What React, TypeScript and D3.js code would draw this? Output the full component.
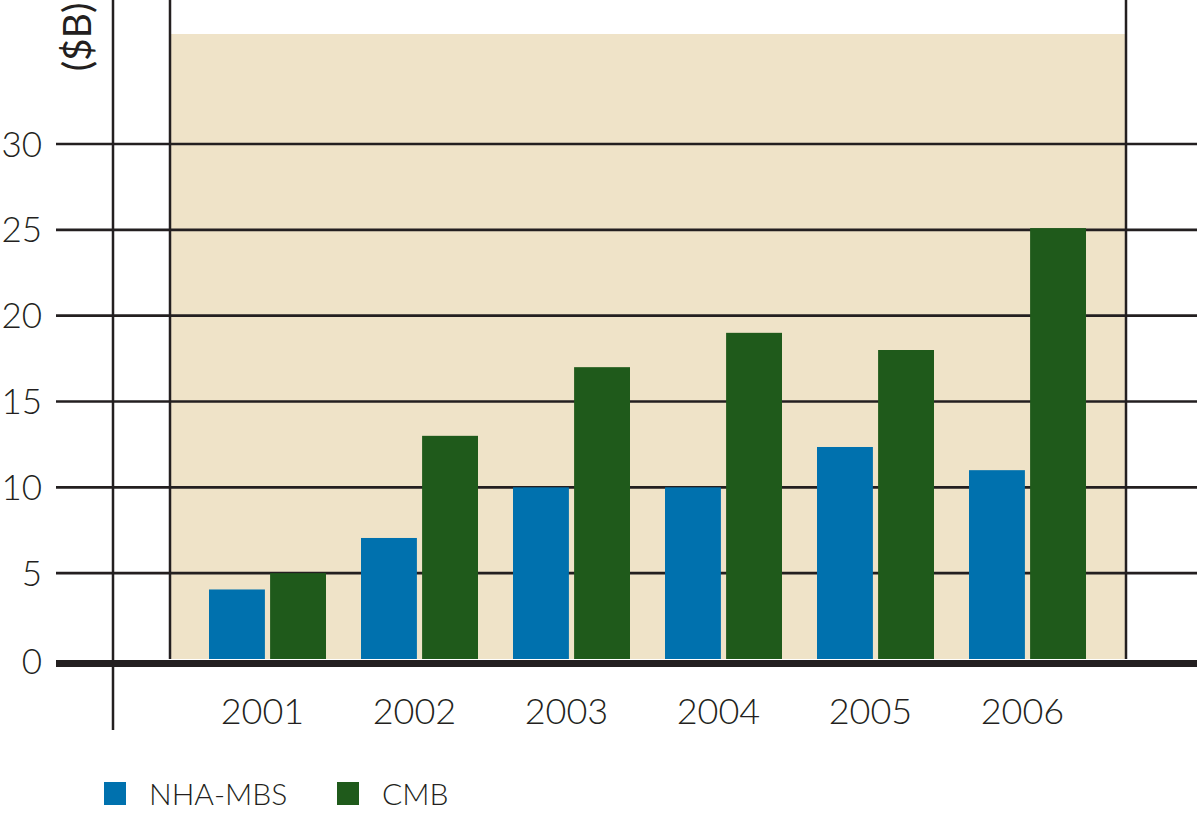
import React from 'react';
import * as d3 from 'd3';

const years = ['2001', '2002', '2003', '2004', '2005', '2006'];
const nhaMbs = [4.05, 7.05, 10, 10, 12.35, 11];
const cmb = [5, 13, 17, 19, 18, 25.1];
const yTicks = [0, 5, 10, 15, 20, 25, 30];
const seriesNames = ['NHA-MBS', 'CMB'];

const W = 1197;
const H = 814;
const BLUE = '#0071ae';
const GREEN = '#1f5a1b';
const INK = '#231f20';
const BEIGE = '#efe3c8';
const FONT = 'Lato, "Open Sans", sans-serif';

export default function App() {
  const y = d3.scaleLinear().domain([0, 30]).range([659, 144]);
  const x = d3.scaleBand().domain(years).range([191.5, 1103.5]).padding(0);
  const inner = d3.scaleBand().domain(seriesNames).range([x.bandwidth() / 2 - 58.5, x.bandwidth() / 2 + 58.5]).paddingInner(0.085);
  const colors = d3.scaleOrdinal<string>().domain(seriesNames).range([BLUE, GREEN]);

  const panelLeft = 170;
  const panelRight = 1126;

  return (
    <svg width={W} height={H} style={{ position: 'absolute', left: 0, top: 0, display: 'block' }}>
      <rect x={0} y={0} width={W} height={H} fill="#fff" />
      {/* beige panel */}
      <rect x={panelLeft} y={34} width={panelRight - panelLeft} height={y(0) - 34} fill={BEIGE} />

      {/* vertical frame lines */}
      <line x1={113} x2={113} y1={0} y2={730} stroke={INK} strokeWidth={2.5} />
      <line x1={panelLeft} x2={panelLeft} y1={0} y2={y(0)} stroke={INK} strokeWidth={2.5} />
      <line x1={panelRight} x2={panelRight} y1={0} y2={y(0)} stroke={INK} strokeWidth={2.5} />

      {/* grid + tick labels */}
      {yTicks.filter(t => t > 0).map(t => (
        <line key={t} x1={56} x2={W} y1={y(t)} y2={y(t)} stroke={INK} strokeWidth={2.6} />
      ))}
      {yTicks.map(t => (
        <text key={'l' + t} x={42} y={t === 0 ? y(0) + 2 : y(t)} dy="0.36em" textAnchor="end" fontFamily={FONT} fontWeight={300} fontSize={35} fill={INK}>
          {t}
        </text>
      ))}

      {/* bars */}
      {years.map((yr, i) => (
        <g key={yr} transform={`translate(${x(yr)},0)`}>
          {[nhaMbs[i], cmb[i]].map((v, j) => (
            <rect
              key={j}
              x={inner(seriesNames[j])}
              y={y(v)}
              width={inner.bandwidth()}
              height={y(0) - y(v)}
              fill={colors(seriesNames[j])}
            />
          ))}
          <text x={x.bandwidth() / 2 - 5} y={724} textAnchor="middle" fontFamily={FONT} fontWeight={300} fontSize={36} fill={INK}>
            {yr}
          </text>
        </g>
      ))}

      {/* baseline */}
      <line x1={56} x2={W} y1={y(0) + 4.5} y2={y(0) + 4.5} stroke={INK} strokeWidth={7} />

      {/* unit label */}
      <text transform="translate(77,37) rotate(-90)" textAnchor="middle" dy="0.35em" fontFamily={FONT} fontWeight={400} fontSize={39} fill={INK}>
        ($B)
      </text>

      {/* legend */}
      {seriesNames.map((s, i) => {
        const lx = [104, 337][i];
        return (
          <g key={s}>
            <rect x={lx} y={782} width={22} height={23} fill={colors(s)} />
            <text x={lx + 45} y={794} dy="0.36em" fontFamily={FONT} fontWeight={300} fontSize={30} fill={INK}>
              {s}
            </text>
          </g>
        );
      })}
    </svg>
  );
}
